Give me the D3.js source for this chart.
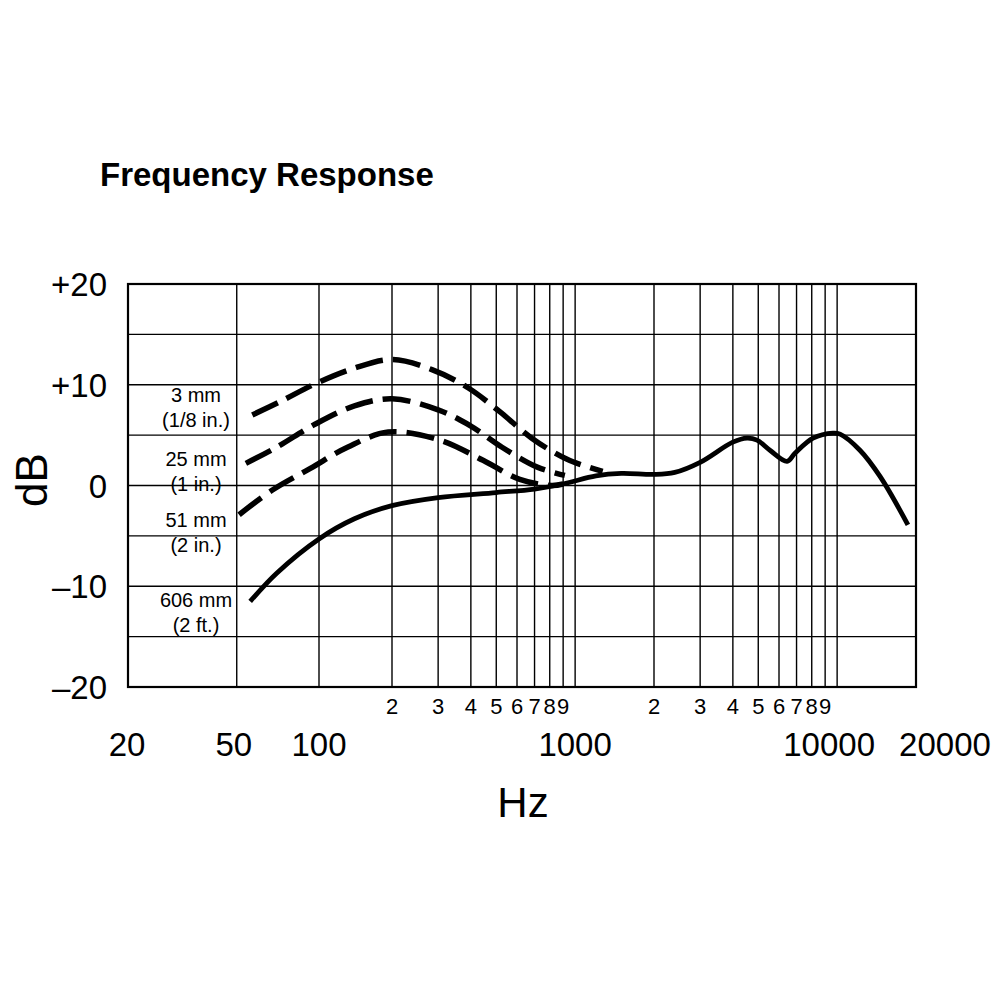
<!DOCTYPE html>
<html><head><meta charset="utf-8">
<script src="https://cdn.jsdelivr.net/npm/d3@7"></script>
<style>html,body{margin:0;padding:0;background:#fff}</style>
</head><body>
<svg id="c" width="1000" height="1000"></svg>
<script>
// ---- data ----
const title = "Frequency Response";
const yTicks = [20, 10, 0, -10, -20];
const yTickLabels = ["+20", "+10", "0", "–10", "–20"];
const yGrid = [-15, -10, -5, 0, 5, 10, 15];
const xGrid = [50, 100, 200, 300, 400, 500, 600, 700, 800, 900, 1000,
  2000, 3000, 4000, 5000, 6000, 7000, 8000, 9000, 10000];
const minorTicks = [200, 300, 400, 500, 600, 700, 800, 900,
  2000, 3000, 4000, 5000, 6000, 7000, 8000, 9000];
const minorLabels = ["2", "3", "4", "5", "6", "7", "8", "9",
  "2", "3", "4", "5", "6", "7", "8", "9"];
const majorTicks = [20, 50, 100, 1000, 10000, 20000];
const majorLabels = ["20", "50", "100", "1000", "10000", "20000"];

const freq3mm = [57, 73, 97, 138, 200, 284, 390, 517, 683, 932, 1274];
const db3mm   = [7.0, 8.4, 10.1, 11.6, 12.5, 11.5, 9.7, 7.3, 4.7, 2.6, 1.4];

const freq25mm = [54, 70, 97, 140, 200, 300, 400, 526, 721, 914];
const db25mm   = [2.2, 3.8, 6.1, 7.9, 8.6, 7.5, 5.9, 3.8, 1.8, 1.0];

const freq51mm = [51, 68, 93, 131, 193, 305, 445, 615, 813, 900];
const db51mm   = [-2.9, -0.4, 1.7, 3.8, 5.3, 4.5, 2.5, 0.6, 0.0, 0.15];

const freq606mm = [56, 70, 100, 140, 200, 300, 500, 700, 900, 1200, 1500, 2000, 2400, 3000, 4000, 4530, 4945, 5540, 6440,
  6904, 8090, 9640, 10260, 12220, 14580, 18630];
const db606mm   = [-11.5, -8.7, -5.3, -3.3, -2.0, -1.2, -0.7, -0.35, 0.15, 0.95, 1.2, 1.1, 1.3, 2.3, 4.3, 4.7, 4.5, 3.5, 2.4,
  3.2, 4.7, 5.2, 5.1, 3.5, 0.9, -3.9];

const curveLabels = [["3 mm", "(1/8 in.)"], ["25 mm", "(1 in.)"], ["51 mm", "(2 in.)"], ["606 mm", "(2 ft.)"]];
const curveLabelDb = [9.0, 2.6, -3.4, -11.4];

// ---- layout ----
const svg = d3.select("#c");
const x = d3.scaleLog().domain([20, 100, 200, 20000]).range([128, 319, 392, 916]);
const y = d3.scaleLinear().domain([-20, 20]).range([687, 284]);
const FONT = "'Liberation Sans', Arial, Helvetica, sans-serif";

svg.append("text").attr("x", 100).attr("y", 186)
  .attr("font-family", FONT).attr("font-weight", "bold").attr("font-size", 33)
  .attr("fill", "#000").text(title);

const grid = svg.append("g").attr("stroke", "#000").attr("stroke-width", 1.4);
grid.selectAll("line.v").data(xGrid).join("line").attr("class", "v")
  .attr("x1", d => x(d)).attr("x2", d => x(d)).attr("y1", y(20)).attr("y2", y(-20));
grid.selectAll("line.h").data(yGrid).join("line").attr("class", "h")
  .attr("x1", x(20)).attr("x2", x(20000)).attr("y1", d => y(d)).attr("y2", d => y(d));

svg.append("rect").attr("x", x(20)).attr("y", y(20))
  .attr("width", x(20000) - x(20)).attr("height", y(-20) - y(20))
  .attr("fill", "none").attr("stroke", "#000").attr("stroke-width", 2.2);

// y tick labels
svg.selectAll("text.yt").data(yTicks).join("text").attr("class", "yt")
  .attr("x", 107).attr("y", d => y(d) + 12)
  .attr("text-anchor", "end").attr("font-family", FONT).attr("font-size", 33)
  .text((d, i) => yTickLabels[i]);

// minor x labels
svg.selectAll("text.mx").data(minorTicks).join("text").attr("class", "mx")
  .attr("x", d => x(d)).attr("y", 714)
  .attr("text-anchor", "middle").attr("font-family", FONT).attr("font-size", 22)
  .text((d, i) => minorLabels[i]);

// major x labels
const majorDx = [-1, -3, 0, 0, -8, 29];
svg.selectAll("text.Mx").data(majorTicks).join("text").attr("class", "Mx")
  .attr("x", (d, i) => x(d) + majorDx[i]).attr("y", 756)
  .attr("text-anchor", "middle").attr("font-family", FONT).attr("font-size", 33)
  .text((d, i) => majorLabels[i]);

svg.append("text").attr("x", 523).attr("y", 817).attr("text-anchor", "middle")
  .attr("font-family", FONT).attr("font-size", 42).text("Hz");
svg.append("text").attr("transform", "translate(47,480) rotate(-90)")
  .attr("text-anchor", "middle").attr("font-family", FONT).attr("font-size", 44).text("dB");

// curve labels
curveLabels.forEach((lines, i) => {
  const cy = y(curveLabelDb[i]);
  lines.forEach((t, j) => {
    svg.append("text").attr("x", 196).attr("y", cy + 7 + j * 25)
      .attr("text-anchor", "middle").attr("font-family", FONT).attr("font-size", 20).text(t);
  });
});

// curves
const line = d3.line().x(d => x(d[0])).y(d => y(d[1])).curve(d3.curveCatmullRom.alpha(0.5));
const series = [
  [freq3mm, db3mm, true],
  [freq25mm, db25mm, true],
  [freq51mm, db51mm, true],
  [freq606mm, db606mm, false]
];
series.forEach(([f, v, dashed]) => {
  svg.append("path").datum(f.map((d, i) => [d, v[i]]))
    .attr("d", line).attr("fill", "none").attr("stroke", "#000")
    .attr("stroke-width", dashed ? 5.5 : 4.8)
    .attr("stroke-dasharray", dashed ? "28,10" : null)
    .attr("stroke-linecap", "butt").attr("stroke-linejoin", "round");
});
</script>
</body></html>
